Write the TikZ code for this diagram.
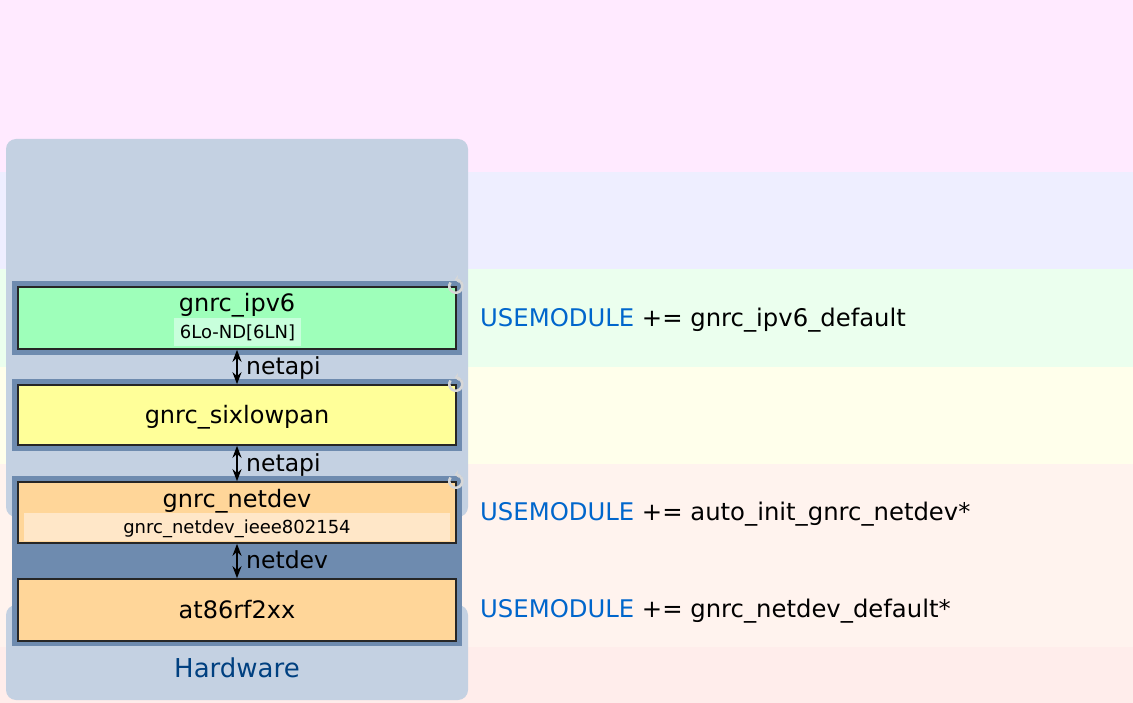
\documentclass[tikz,border=0pt]{standalone}
\usepackage{fontspec}
\setmainfont{DejaVu Sans}
\usetikzlibrary{arrows.meta,calc}
\definecolor{bgpink}{RGB}{255,234,255}
\definecolor{bglav}{RGB}{238,238,255}
\definecolor{bggreen}{RGB}{235,255,238}
\definecolor{bgyellow}{RGB}{255,255,235}
\definecolor{bgpeach}{RGB}{255,243,238}
\definecolor{bgrose}{RGB}{255,237,235}
\definecolor{panel}{RGB}{196,209,226}
\definecolor{frame}{RGB}{110,139,175}
\definecolor{ipgreen}{RGB}{158,255,186}
\definecolor{ipsub}{RGB}{200,255,220}
\definecolor{sixyellow}{RGB}{255,255,153}
\definecolor{devorange}{RGB}{255,214,153}
\definecolor{devsub}{RGB}{255,231,200}
\definecolor{usemod}{RGB}{0,102,204}
\definecolor{hwblue}{RGB}{0,64,128}
\definecolor{refreshgray}{RGB}{215,215,215}
\tikzset{
  layerbox/.style={draw=black!85, line width=1.6pt, minimum width=438pt, inner sep=0pt},
  subbox/.style={inner sep=0pt, minimum height=28pt},
  title/.style={anchor=base, inner sep=0pt, font=\fontsize{24}{28}\selectfont},
  small/.style={anchor=base, inner sep=0pt, font=\fontsize{18}{22}\selectfont},
  conn/.style={line width=2.4pt, {Stealth[length=12pt,width=9pt]}-{Stealth[length=12pt,width=9pt]}},
  connlabel/.style={anchor=base west, inner sep=0pt, font=\fontsize{23.5}{27}\selectfont},
  usetext/.style={anchor=base west, inner sep=0pt, font=\fontsize{24.3}{28}\selectfont},
  refresh/.style={draw=refreshgray, line width=2.6pt, -{Stealth[length=4pt,width=8pt]}}
}
\begin{document}
\begin{tikzpicture}[x=1pt,y=-1pt]
\useasboundingbox (0,0) rectangle (1133,703);
% background bands
\fill[bgpink] (0,0) rectangle (1133,172);
\fill[bglav] (0,172) rectangle (1133,269);
\fill[bggreen] (0,269) rectangle (1133,367);
\fill[bgyellow] (0,367) rectangle (1133,464);
\fill[bgpeach] (0,464) rectangle (1133,647);
\fill[bgrose] (0,647) rectangle (1133,703);
% panels
\fill[panel, rounded corners=10pt] (6,139) rectangle (468,517);
\fill[panel, rounded corners=10pt] (6,605) rectangle (468,700);
% frames
\fill[frame] (12,281) rectangle (462,355);
\fill[frame] (12,379) rectangle (462,451);
\fill[frame] (12,476) rectangle (462,646);
% layer boxes
\node[layerbox, fill=ipgreen, minimum height=62pt] (ipv6) at (237,318) {};
\node[layerbox, fill=sixyellow, minimum height=60pt] (six) at (237,415) {};
\node[layerbox, fill=devorange, minimum height=61pt] (netdev) at (237,512.5) {};
\node[layerbox, fill=devorange, minimum height=62pt] (at86) at (237,610) {};
% sub boxes
\node[subbox, fill=ipsub, minimum width=127pt] (ipsubbox) at (237.5,332) {};
\node[subbox, fill=devsub, minimum width=426pt] (devsubbox) at (237,527) {};
% texts
\node[title] (t1) at (237,312) {gnrc\_ipv6};
\node[small] (t1s) at (237.5,339) {6Lo-ND[6LN]};
\node[title] (t2) at (237,424) {gnrc\_sixlowpan};
\node[title] (t3) at (237,507) {gnrc\_netdev};
\node[small] (t3s) at (237,533) {gnrc\_netdev\_ieee802154};
\node[title] (t4) at (237,618) {at86rf2xx};
\node[anchor=base, inner sep=0pt, text=hwblue, font=\fontsize{26}{30}\selectfont] (hw) at (237,677) {Hardware};
% connectors
\draw[conn] (ipv6.south) -- (six.north);
\draw[conn] (six.south) -- (netdev.north);
\draw[conn] (netdev.south) -- (at86.north);
\node[connlabel] (l1) at (246,374) {netapi};
\node[connlabel] (l2) at (246,471) {netapi};
\node[connlabel] (l3) at (246,568) {netdev};
% refresh icons
\foreach \n in {ipv6,six,netdev}{
  \draw[refresh] ($(\n.north east)+(-1,0)+(215:6.5)$) arc (215:-100:6.5);
}
% right texts
\node[usetext] (u1) at (480,327) {\textcolor{usemod}{USEMODULE} += gnrc\_ipv6\_default};
\node[usetext] (u2) at (480,520) {\textcolor{usemod}{USEMODULE} += auto\_init\_gnrc\_netdev*};
\node[usetext] (u3) at (480,617) {\textcolor{usemod}{USEMODULE} += gnrc\_netdev\_default*};
\end{tikzpicture}
\end{document}
